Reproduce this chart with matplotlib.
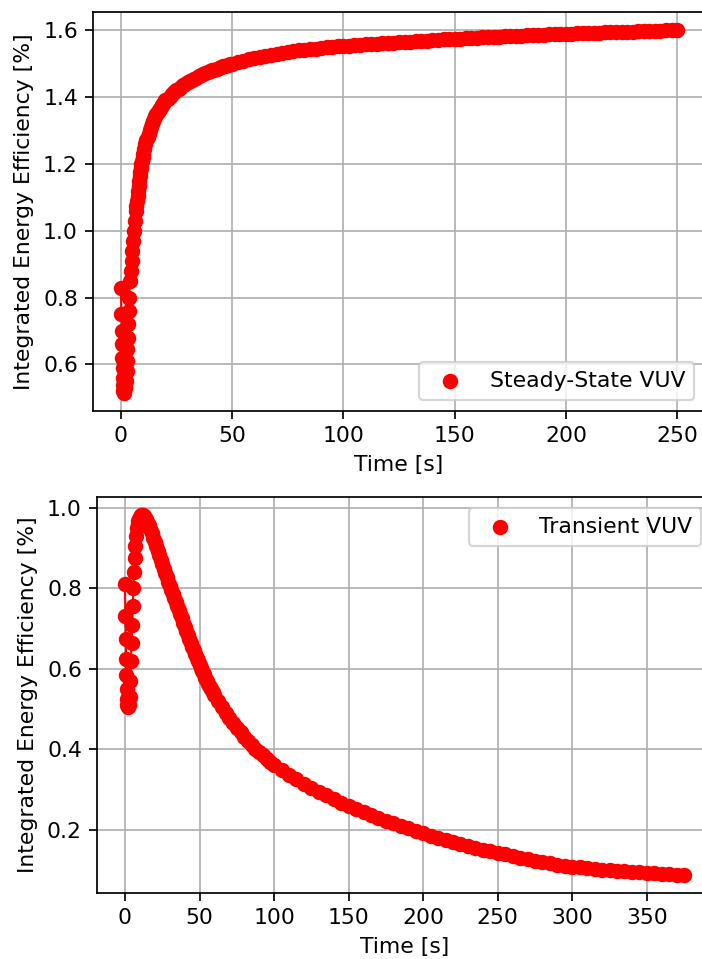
import matplotlib
matplotlib.use("Agg")
import matplotlib.pyplot as plt

# ---------------- Steady-State VUV ----------------
ss_time = [0.0, 0.3, 0.5, 0.6, 0.7, 0.8, 0.9, 1.0, 1.2, 1.6, 2.0,
           2.4, 2.6, 2.8, 3.0, 3.2, 3.4, 3.6, 3.8,
           4.0, 4.4, 4.8, 5.2, 5.6, 6.0, 6.4, 6.8,
           7.0, 7.25, 7.5, 7.75, 8.0, 8.25, 8.5, 8.75, 9.0, 9.25, 9.5, 9.75, 10.0,
           10.5, 11, 11.5, 12, 12.5, 13, 13.5, 14, 14.5, 15, 15.5, 16, 16.5, 17, 17.5,
           18, 18.5, 19, 19.5, 20, 21, 22, 23, 24, 25, 26, 27, 28, 29, 30,
           31, 32, 33, 34, 35, 36, 37, 38, 39, 40, 41, 42, 43, 44, 45, 46, 47, 48, 49,
           50, 52.5, 55, 57.5, 60, 62.5, 65, 67.5, 70, 72.5, 75, 77.5,
           80, 82.5, 85, 87.5, 90, 92.5, 95, 97.5, 100, 102.5, 105, 107.5,
           110, 112.5, 115, 117.5, 120, 122.5, 125, 127.5, 130, 132.5, 135, 137.5,
           140, 142.5, 145, 147.5, 150, 152.5, 155, 157.5, 160, 162.5, 165, 167.5,
           170, 172.5, 175, 177.5, 180, 182.5, 185, 187.5, 190, 192.5, 195, 197.5,
           200, 202.5, 205, 207.5, 210, 212.5, 215, 217.5, 220, 222.5, 225, 227.5,
           230, 232.5, 235, 237.5, 240, 242.5, 245, 247.5, 250]
ss_eff = [0.83, 0.75, 0.70, 0.66, 0.62, 0.59, 0.56, 0.54, 0.52, 0.515, 0.53,
          0.55, 0.58, 0.61, 0.645, 0.68, 0.72, 0.76, 0.80,
          0.85, 0.88, 0.91, 0.94, 0.97, 1.00, 1.03, 1.06,
          1.075, 1.09, 1.105, 1.12, 1.135, 1.15, 1.165, 1.177, 1.188, 1.199, 1.21, 1.22, 1.23,
          1.245, 1.26, 1.27, 1.28, 1.29, 1.30, 1.31, 1.32, 1.328, 1.335, 1.343, 1.35, 1.355, 1.36, 1.365,
          1.37, 1.375, 1.38, 1.385, 1.39, 1.395, 1.40, 1.408, 1.415, 1.42, 1.425, 1.43, 1.435, 1.44, 1.445,
          1.449, 1.452, 1.455, 1.458, 1.462, 1.465, 1.468, 1.471, 1.474, 1.477, 1.48, 1.482, 1.485, 1.487,
          1.49, 1.492, 1.494, 1.496, 1.498,
          1.500, 1.505, 1.509, 1.514, 1.518, 1.521, 1.524, 1.527, 1.530, 1.533, 1.535, 1.538,
          1.540, 1.542, 1.544, 1.545, 1.547, 1.549, 1.550, 1.552, 1.553, 1.554, 1.556, 1.557,
          1.558, 1.559, 1.560, 1.561, 1.562, 1.563, 1.564, 1.565, 1.566, 1.567, 1.568, 1.569,
          1.570, 1.571, 1.572, 1.572, 1.573, 1.574, 1.575, 1.576, 1.577, 1.578, 1.579, 1.579,
          1.580, 1.581, 1.582, 1.582, 1.583, 1.584, 1.585, 1.585, 1.586, 1.587, 1.587, 1.588,
          1.588, 1.589, 1.590, 1.590, 1.591, 1.592, 1.592, 1.593, 1.593, 1.594, 1.594, 1.595,
          1.595, 1.596, 1.597, 1.597, 1.598, 1.598, 1.599, 1.599, 1.600]

# ---------------- Transient VUV ----------------
tr_time = [0.0, 0.3, 0.5, 0.7, 0.9, 1.1, 1.3, 1.5, 1.8, 2.5,
           3.2, 3.6, 4.0, 4.4, 4.8, 5.2, 5.6, 6.0, 6.5, 7.0, 7.5, 8.0,
           8.5, 9, 9.5, 10, 10.5, 11, 11.5,
           12, 13, 14, 15, 16, 17, 18, 19, 20, 21, 22, 23, 24, 25, 26, 27, 28, 29,
           30, 31, 32, 33, 34, 35, 36, 37, 38, 39, 40, 41, 42, 43, 44, 45, 46, 47,
           48, 49, 50, 51, 52, 53, 54, 55, 56, 57, 58, 59, 60,
           62.5, 65, 67.5, 70, 72.5, 75, 77.5, 80, 82.5, 85, 87.5, 90, 92.5, 95,
           97.5, 100, 105, 110, 115, 120,
           125, 130, 135, 140, 145, 150, 155, 160, 165, 170, 175, 180, 185, 190, 195, 200, 205,
           210, 215, 220, 225, 230, 235, 240, 245, 250, 255, 260, 265, 270, 275,
           280, 285, 290, 295, 300, 305, 310, 315, 320, 325, 330, 335, 340, 345,
           350, 355, 360, 365, 370, 375]
tr_eff = [0.81, 0.73, 0.675, 0.625, 0.585, 0.55, 0.525, 0.51, 0.505, 0.51,
          0.53, 0.57, 0.62, 0.665, 0.71, 0.755, 0.80, 0.84, 0.875, 0.905, 0.93, 0.95,
          0.96, 0.967, 0.973, 0.977, 0.979, 0.981, 0.982,
          0.982, 0.979, 0.973, 0.965, 0.956, 0.947, 0.937, 0.926, 0.915, 0.904, 0.893, 0.882, 0.871, 0.860,
          0.849, 0.838, 0.827, 0.816,
          0.805, 0.795, 0.785, 0.775, 0.765, 0.755, 0.745, 0.735, 0.725, 0.715, 0.705, 0.695, 0.685, 0.675,
          0.665, 0.655, 0.646, 0.637,
          0.628, 0.619, 0.610, 0.602, 0.594, 0.586, 0.578, 0.570, 0.563, 0.556, 0.549, 0.542, 0.535,
          0.519, 0.504, 0.490, 0.477, 0.465, 0.453, 0.442, 0.431, 0.421, 0.411, 0.402, 0.393, 0.385, 0.377,
          0.369, 0.361, 0.348, 0.337, 0.326, 0.315,
          0.305, 0.295, 0.286, 0.277, 0.268, 0.260, 0.252, 0.244, 0.237, 0.230, 0.223, 0.216, 0.210, 0.204,
          0.198, 0.192, 0.186,
          0.181, 0.175, 0.170, 0.165, 0.160, 0.156, 0.151, 0.147, 0.143, 0.139, 0.135, 0.131, 0.127, 0.123,
          0.120, 0.117, 0.114, 0.111, 0.109, 0.107, 0.105, 0.103, 0.101, 0.100, 0.098, 0.097, 0.096, 0.095,
          0.094, 0.092, 0.091, 0.090, 0.089, 0.088]

ss_label = "Steady-State VUV"
tr_label = "Transient VUV"
x_label = "Time [s]"
y_label = "Integrated Energy Efficiency [%]"

plt.rcParams["font.size"] = 10.2
plt.rcParams["legend.fontsize"] = 10.2

W, H, DPI = 702, 959, 155
fig = plt.figure(figsize=(W / DPI, H / DPI), dpi=DPI)

def px_axes(left, top, right, bottom):
    return fig.add_axes([left / W, 1 - bottom / H, (right - left) / W, (bottom - top) / H])

ax1 = px_axes(93, 12, 705, 411)
ax2 = px_axes(97, 497, 712, 893)

for ax, t, v, lab, loc in [(ax1, ss_time, ss_eff, ss_label, "lower right"),
                           (ax2, tr_time, tr_eff, tr_label, "upper right")]:
    ax.plot(t, v, color="red", lw=1.0, zorder=2)
    ax.scatter(t, v, s=38, color="red", label=lab, zorder=3)
    ax.grid(True, color="#b0b0b0", lw=0.8)
    ax.set_axisbelow(True)
    ax.set_xlabel(x_label)
    ax.set_ylabel(y_label)
    ax.legend(loc=loc)

ax1.set_xticks([0, 50, 100, 150, 200, 250])
ax1.set_yticks([0.6, 0.8, 1.0, 1.2, 1.4, 1.6])
ax2.set_xticks([0, 50, 100, 150, 200, 250, 300, 350])
ax2.set_yticks([0.2, 0.4, 0.6, 0.8, 1.0])

fig.savefig("out.png", dpi=DPI)
